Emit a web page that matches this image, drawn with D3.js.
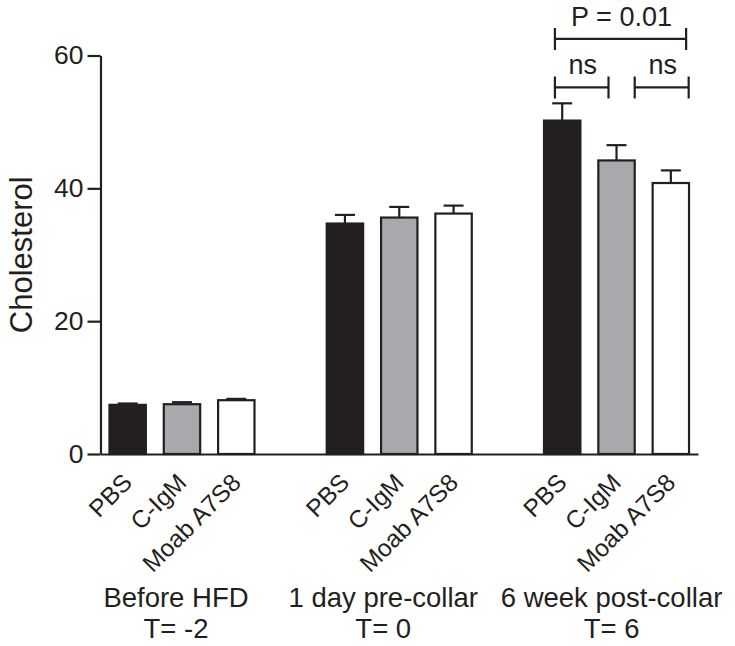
<!DOCTYPE html>
<html>
<head>
<meta charset="utf-8">
<script src="https://cdn.jsdelivr.net/npm/d3@7"></script>
<style>
  body { margin: 0; background: #fff; }
  svg { display: block; font-family: "Liberation Sans", Arial, Helvetica, sans-serif; }
</style>
</head>
<body>
<svg width="735" height="646"></svg>
<script>
// treatments in each time group
var categories = ["PBS", "C-IgM", "Moab A7S8"];
var groups = ["Before HFD", "1 day pre-collar", "6 week post-collar"];
var groupTimes = ["T= -2", "T= 0", "T= 6"];

// mean cholesterol per group (Before HFD, 1 day pre, 6 week post)
var pbsMeans = [7.4, 34.7, 50.2];
var cigmMeans = [7.5, 35.6, 44.2];
var moabMeans = [8.1, 36.2, 40.8];

// SEM (upper error bar only)
var pbsErr = [0.2, 1.3, 2.6];
var cigmErr = [0.3, 1.6, 2.3];
var moabErr = [0.2, 1.2, 1.9];

var yTicks = [0, 20, 40, 60];

// significance brackets over the 6 week group
var brackets = [
    { group: 2, from: "PBS", to: "Moab A7S8", level: 62.5, label: "P = 0.01", f0: 0.3, f1: 0.92 },
    { group: 2, from: "PBS", to: "C-IgM", level: 55.2, label: "ns", f0: 0.3, f1: 0.28 },
    { group: 2, from: "C-IgM", to: "Moab A7S8", level: 55.2, label: "ns", f0: 1.0, f1: 0.99 }
];

var ink = "#231f20";
var fills = { "PBS": "#231f20", "C-IgM": "#a7a9ac", "Moab A7S8": "#ffffff" };

var svg = d3.select("svg");

// one slot per bar plus an empty slot between groups
var slots = [];
groups.forEach(function(g, gi) {
    categories.forEach(function(c) { slots.push(gi + "|" + c); });
    if (gi < groups.length - 1) slots.push("gap" + gi);
});

var x = d3.scaleBand()
    .domain(slots)
    .range([100.5, 698])
    .paddingInner(0.33)
    .paddingOuter(0.165);

var y = d3.scaleLinear()
    .domain([0, 60])
    .range([454, 55.5]);

var bw = x.bandwidth();

var barData = [];
var seriesMeans = [pbsMeans, cigmMeans, moabMeans];
var seriesErr = [pbsErr, cigmErr, moabErr];
groups.forEach(function(g, gi) {
    categories.forEach(function(c, ci) {
        barData.push({ key: gi + "|" + c, cat: c, group: gi, value: seriesMeans[ci][gi], err: seriesErr[ci][gi] });
    });
});

// error bars (drawn first so the bar outline sits on top)
var errG = svg.append("g").attr("stroke", ink).attr("stroke-width", 2.2);
errG.selectAll(".stem")
    .data(barData)
    .enter()
    .append("line")
    .attr("x1", function(d) { return x(d.key) + bw / 2; })
    .attr("x2", function(d) { return x(d.key) + bw / 2; })
    .attr("y1", function(d) { return y(d.value); })
    .attr("y2", function(d) { return y(d.value + d.err); });
errG.selectAll(".cap")
    .data(barData)
    .enter()
    .append("line")
    .attr("x1", function(d) { return x(d.key) + bw / 2 - 10; })
    .attr("x2", function(d) { return x(d.key) + bw / 2 + 10; })
    .attr("y1", function(d) { return y(d.value + d.err); })
    .attr("y2", function(d) { return y(d.value + d.err); });

svg.append("g").selectAll("rect")
    .data(barData)
    .enter()
    .append("rect")
    .attr("x", function(d) { return x(d.key); })
    .attr("y", function(d) { return y(d.value); })
    .attr("width", bw)
    .attr("height", function(d) { return y(0) - y(d.value); })
    .attr("fill", function(d) { return fills[d.cat]; })
    .attr("stroke", ink)
    .attr("stroke-width", 2.2);

// y axis
var yAxis = svg.append("g")
    .attr("transform", "translate(100.5,0)")
    .call(d3.axisLeft(y).tickValues(yTicks).tickSize(13).tickSizeOuter(0).tickPadding(4));
yAxis.select(".domain").attr("stroke", ink).attr("stroke-width", 2.2);
yAxis.selectAll(".tick line").attr("stroke", ink).attr("stroke-width", 2.2);
yAxis.selectAll(".tick text")
    .attr("fill", ink)
    .style("font-size", "26.5px")
    .style("font-family", "'Liberation Sans', Arial, sans-serif");

// x axis baseline, no ticks
var xAxis = svg.append("g")
    .attr("transform", "translate(0," + y(0) + ")")
    .call(d3.axisBottom(x).tickValues([]).tickSizeOuter(0));
xAxis.select(".domain").attr("stroke", ink).attr("stroke-width", 2.2);

// rotated treatment labels
svg.append("g").selectAll("text")
    .data(barData)
    .enter()
    .append("text")
    .attr("transform", function(d) {
        return "translate(" + (x(d.key) + bw / 2 + 6) + ",484) rotate(-45)";
    })
    .attr("text-anchor", "end")
    .attr("fill", ink)
    .style("font-size", "24.5px")
    .text(function(d) { return d.cat; });

// group labels (slightly nudged like the original)
var nudge = [-6, -16, -5];
var groupG = svg.append("g").selectAll("g")
    .data(groups)
    .enter()
    .append("g")
    .attr("transform", function(d, i) {
        var cx = x(i + "|" + categories[1]) + bw / 2 + nudge[i];
        return "translate(" + cx + ",0)";
    });
groupG.append("text")
    .attr("y", 607)
    .attr("text-anchor", "middle")
    .attr("fill", ink)
    .style("font-size", "27.5px")
    .text(function(d) { return d; });
groupG.append("text")
    .attr("y", 638)
    .attr("text-anchor", "middle")
    .attr("fill", ink)
    .style("font-size", "27.5px")
    .text(function(d, i) { return groupTimes[i]; });

// y title
svg.append("text")
    .attr("transform", "translate(32," + ((y(0) + y(60)) / 2) + ") rotate(-90)")
    .attr("text-anchor", "middle")
    .attr("fill", ink)
    .style("font-size", "31px")
    .text("Cholesterol");

// significance brackets
var br = svg.append("g").selectAll("g")
    .data(brackets)
    .enter()
    .append("g");
br.append("path")
    .attr("fill", "none")
    .attr("stroke", ink)
    .attr("stroke-width", 2.2)
    .attr("d", function(d) {
        var x0 = x(d.group + "|" + d.from) + d.f0 * bw;
        var x1 = x(d.group + "|" + d.to) + d.f1 * bw;
        var yy = y(d.level);
        return "M" + x0 + "," + (yy - 11) + "V" + (yy + 11) +
            "M" + x0 + "," + yy + "H" + x1 +
            "M" + x1 + "," + (yy - 11) + "V" + (yy + 11);
    });
br.append("text")
    .attr("x", function(d) {
        var x0 = x(d.group + "|" + d.from) + d.f0 * bw;
        var x1 = x(d.group + "|" + d.to) + d.f1 * bw;
        return (x0 + x1) / 2 + 1;
    })
    .attr("y", function(d) { return y(d.level) - 13; })
    .attr("text-anchor", "middle")
    .attr("fill", ink)
    .style("font-size", "27px")
    .text(function(d) { return d.label; });
</script>
</body>
</html>
